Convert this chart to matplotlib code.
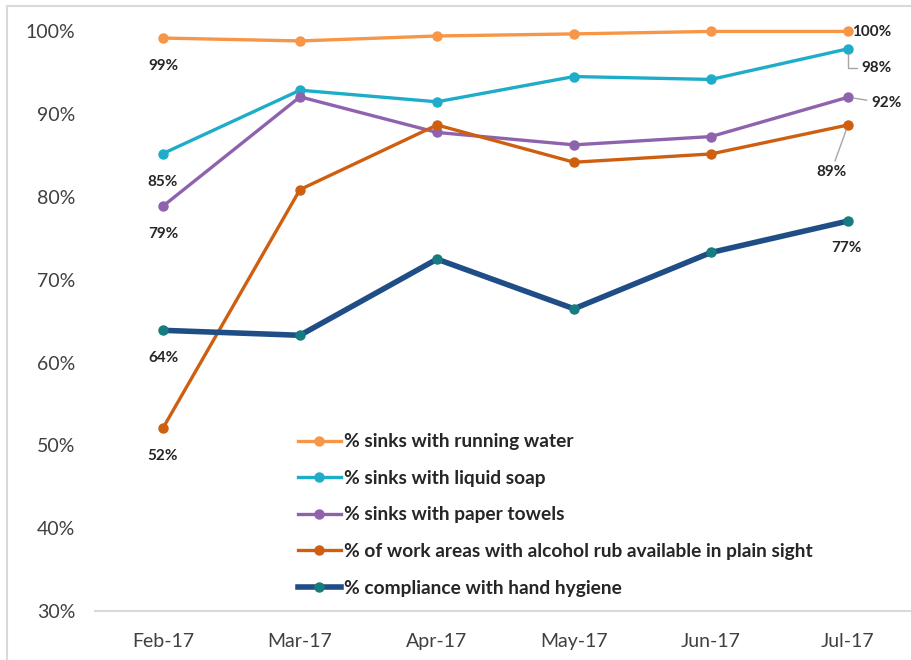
import matplotlib.pyplot as plt
from matplotlib.patches import Rectangle

plt.rcParams['font.family'] = ['Lato', 'DejaVu Sans']

months = ['Feb-17', 'Mar-17', 'Apr-17', 'May-17', 'Jun-17', 'Jul-17']

running_water = [99.2, 98.85, 99.45, 99.7, 100.0, 100.0]
liquid_soap = [85.25, 92.9, 91.5, 94.55, 94.2, 97.9]
paper_towels = [78.9, 92.1, 87.8, 86.3, 87.3, 92.05]
alcohol_rub = [52.1, 80.9, 88.7, 84.2, 85.2, 88.7]
compliance = [63.9, 63.3, 72.5, 66.5, 73.3, 77.1]

series = [
    ('% sinks with running water', running_water, '#F79646', '#F79646', 2.4),
    ('% sinks with liquid soap', liquid_soap, '#1EADC9', '#1EADC9', 2.4),
    ('% sinks with paper towels', paper_towels, '#8F62AE', '#8F62AE', 2.4),
    ('% of work areas with alcohol rub available in plain sight', alcohol_rub,
     '#CF5F10', '#CF5F10', 2.4),
    ('% compliance with hand hygiene', compliance, '#1F4E87', '#167C80', 4.0),
]

fig = plt.figure(figsize=(9.12, 6.6), dpi=100)
ax = fig.add_axes([94.5 / 912, 49 / 660, (912 - 94.5) / 912, 592 / 660])

x = list(range(len(months)))
for name, vals, color, mcolor, lw in series:
    ax.plot(x, vals, color=color, lw=lw, marker='o', markersize=6.5,
            markerfacecolor=mcolor, markeredgecolor=mcolor, label=name)

ax.set_xlim(-0.5, 5.467)
ax.set_ylim(30, 101.5)
ax.set_xticks(x)
ax.set_xticklabels(months)
ax.set_yticks(range(30, 101, 10))
ax.set_yticklabels([f'{v}%' for v in range(30, 101, 10)])
ax.tick_params(axis='both', length=0, labelsize=14, colors='#404040')
ax.tick_params(axis='y', pad=14)
ax.tick_params(axis='x', pad=16)
for s in ['top', 'right', 'left']:
    ax.spines[s].set_visible(False)
ax.spines['bottom'].set_color('#D9D9D9')
ax.spines['bottom'].set_linewidth(1.5)

lab = dict(fontsize=11, fontweight='bold', color='#262626',
           textcoords='offset pixels', va='center')
grey = dict(arrowstyle='-', color='#A6A6A6', lw=1, shrinkA=1, shrinkB=4)

# first-month labels below the points
for vals in [running_water, liquid_soap, paper_towels, alcohol_rub, compliance]:
    ax.annotate(f'{round(vals[0])}%', (0, vals[0]), xytext=(0, -28),
                ha='center', **lab)

# last-month labels
ax.annotate(f'{round(running_water[5])}%', (5, running_water[5]),
            xytext=(4, -1), ha='left', **lab)
ax.annotate(f'{round(liquid_soap[5])}%', (5, liquid_soap[5]),
            xytext=(13, -19), ha='left',
            arrowprops=dict(grey, connectionstyle='angle,angleA=0,angleB=90'),
            **lab)
ax.annotate(f'{round(paper_towels[5])}%', (5, paper_towels[5]),
            xytext=(23, -6), ha='left', arrowprops=grey, **lab)
ax.annotate(f'{round(alcohol_rub[5])}%', (5, alcohol_rub[5]),
            xytext=(-17, -47), ha='center', arrowprops=grey, **lab)
ax.annotate(f'{round(compliance[5])}%', (5, compliance[5]),
            xytext=(-2, -27), ha='center', **lab)

leg = ax.legend(loc='upper left', bbox_to_anchor=(188 / 817.5, 0.326),
                frameon=False, handlelength=2.25, handletextpad=0.15,
                labelspacing=1.02, borderpad=0.3,
                prop={'weight': 'bold', 'size': 13.8})
for t in leg.get_texts():
    t.set_color('#262626')

fig.patches.append(Rectangle((7 / 912, -0.05), 1.0, 1 - 6 / 660 + 0.05,
                             transform=fig.transFigure, fill=False,
                             ec='#D9D9D9', lw=1.5))

fig.savefig('out.png', dpi=100)
